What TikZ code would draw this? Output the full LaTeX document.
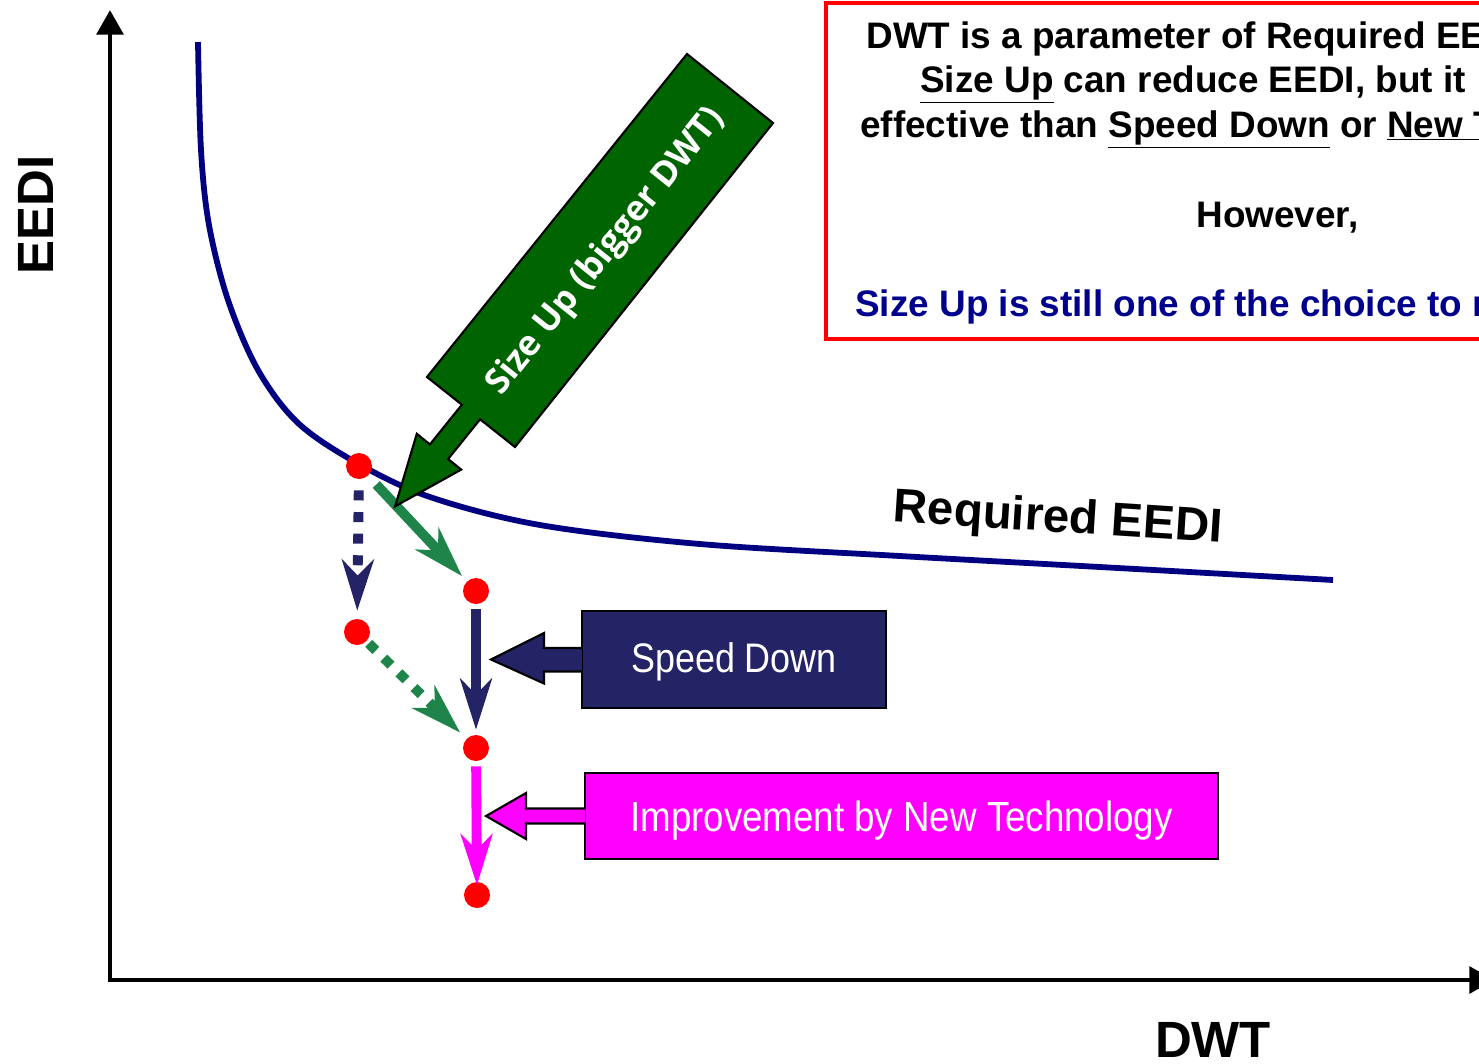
\documentclass[tikz,border=0pt]{standalone}
\usepackage{fontspec}
\setmainfont{Liberation Sans}
\newfontfamily\narrowfont[FakeStretch=0.87]{Liberation Sans}
\newfontfamily\bandfont{Open Sans}
\usetikzlibrary{arrows.meta, calc}
\definecolor{curveblue}{RGB}{0,0,128}
\definecolor{slatenavy}{RGB}{35,35,102}
\definecolor{pathgreen}{RGB}{30,132,73}
\definecolor{bandgreen}{RGB}{0,100,0}
\definecolor{notenavy}{RGB}{0,0,140}
\definecolor{techpink}{RGB}{255,0,255}

\begin{document}
\begin{tikzpicture}[x=0.02cm, y=-0.02cm,
    dot/.style={circle, fill=red, inner sep=0, minimum size=0.52cm},
    move/.style={line width=5.6pt, -{Stealth[length=29pt, width=18pt, inset=9pt]}},
    callout/.style={draw, line width=1.2pt, inner sep=0, text=white},
    notetext/.style={inner sep=0, anchor=base west, font=\bfseries\fontsize{21}{25}\selectfont},
    axislabel/.style={anchor=base, font=\bfseries\fontsize{29}{29}\selectfont}]
    \useasboundingbox (0,0) rectangle (1479,1063);
    \clip (0,0) rectangle (1479,1063);

    % axes
    \coordinate (ytop) at (110,10);
    \coordinate (origin) at (110,980);
    \coordinate (xend) at (1494,980);
    \draw [line width=2.8pt, line join=miter,
        {Triangle[length=14pt, width=15pt]}-{Triangle[length=14pt, width=15pt]}]
        (ytop) -- (origin) -- (xend);
    \node [axislabel, rotate=90] (eedi) at (53,215) {EEDI};
    \node [axislabel] (dwt) at (1213,1057) {DWT};

    % required EEDI curve
    \draw [curveblue, line width=3.3pt] plot [smooth, tension=0.55] coordinates {
        (198,42) (201,150) (209,225) (228,300) (258,370) (298,423)
        (357,463) (430,497) (540,525) (700,544) (900,556) (1100,567) (1333,580)};
    \node [anchor=base, rotate=-3.7, font=\bfseries\fontsize{27}{27}\selectfont]
        (required) at (1057,532) {Required EEDI};

    % note
    \draw [red, line width=2.3pt] (826,3) rectangle (1560,339);
    \node [notetext] (note1) at (866,48) {DWT is a parameter of Required EE};
    \node [notetext] (note2) at (920,92) {\underline{Size Up} can reduce EEDI, but it};
    \node [notetext] (note3) at (860,137) {effective than \underline{Speed Down} or \underline{New T}};
    \node [notetext] (note4) at (1196,227) {However,};
    \node [notetext, text=notenavy] (note5) at (855,316) {Size Up is still one of the choice to r};

    % design points
    \node [dot] (start) at (359,466) {};
    \node [dot] (bigger) at (476,591) {};
    \node [dot] (slower) at (357,632) {};
    \node [dot] (combined) at (476,748) {};
    \node [dot] (improved) at (477,895) {};

    \draw [move, slatenavy, dash pattern=on 5.7pt off 6.6pt,
        shorten <=6.3pt, shorten >=4.5pt] (start) -- (slower);
    \draw [move, pathgreen, shorten <=6.8pt, shorten >=4pt] (start) -- (bigger);
    \draw [move, pathgreen, dash pattern=on 5.7pt off 6.3pt,
        shorten <=1.7pt, shorten >=5pt] (slower) -- (combined);
    \draw [move, slatenavy, shorten <=2.8pt, shorten >=2.8pt] (bigger) -- (combined);
    \draw [move, techpink, shorten <=2.8pt, shorten >=-2pt] (combined) -- (improved);

    % callouts
    \filldraw [fill=bandgreen, line width=1.2pt, line join=miter]
        (687,54) -- (773,123) -- (515,447) -- (480.1,419.3) -- (448.1,459.0)
        -- (461.2,469.6) -- (395.1,506.3) -- (416.8,433.8) -- (429.9,444.4)
        -- (461.9,404.7) -- (427,377) -- cycle;
    \node [white, rotate=51.2, font=\bandfont\bfseries\fontsize{20}{20}\selectfont]
        (sizeup) at (606,252) {Size Up (bigger DWT)};

    \node [callout, fill=slatenavy, minimum width=6.08cm, minimum height=1.94cm,
        font=\narrowfont\fontsize{23.5}{23.5}\selectfont] (speed) at (734,659.5) {};
    \node [text=white, font=\narrowfont\fontsize{23.5}{23.5}\selectfont, yshift=-1.5pt]
        (speedtext) at (speed) {Speed Down};
    \filldraw [fill=slatenavy, line width=1.2pt]
        ($(speed.west)+(1,-11.5)$) -- ++(-38,0) -- ++(0,-15) -- ++(-53,26.5)
        -- ++(53,24) -- ++(0,-12) -- ++(38,0);

    \node [callout, fill=techpink, minimum width=12.66cm, minimum height=1.72cm] (newtech) at (901.5,816) {};
    \node [text=white, font=\narrowfont\fontsize{24}{24}\selectfont, yshift=-2.5pt]
        (newtechtext) at (newtech) {Improvement by New Technology};
    \filldraw [fill=techpink, line width=1.2pt]
        ($(newtech.west)+(1,-7.5)$) -- ++(-59,0) -- ++(0,-15.5) -- ++(-40,23)
        -- ++(40,23) -- ++(0,-15.5) -- ++(59,0);
\end{tikzpicture}
\end{document}
